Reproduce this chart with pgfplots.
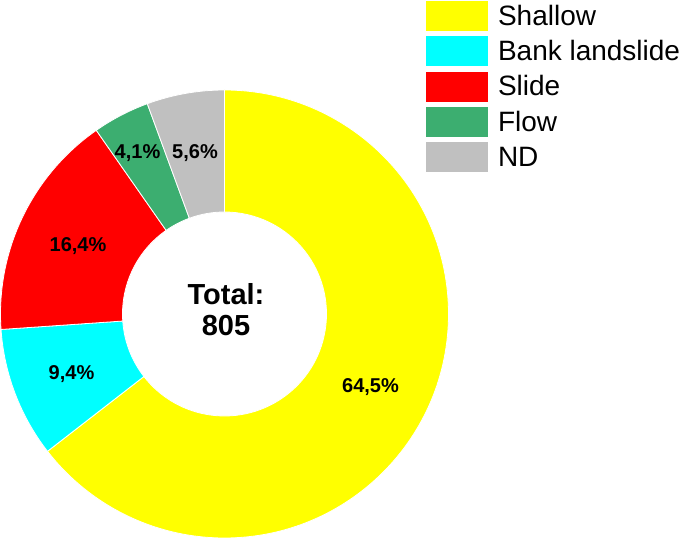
\documentclass[border=0pt]{standalone}
\usepackage{pgfplots}
\pgfplotsset{compat=1.18}
\usepackage{fontspec}
\setmainfont{Liberation Sans}

\definecolor{cShallow}{RGB}{255,255,0}
\definecolor{cBank}{RGB}{0,255,255}
\definecolor{cSlide}{RGB}{255,0,0}
\definecolor{cFlow}{RGB}{60,174,112}
\definecolor{cND}{RGB}{192,192,192}

% shares in percent, clockwise from 12 o'clock
\def\pShallow{64.5}
\def\pBank{9.4}
\def\pSlide{16.4}
\def\pFlow{4.1}
\def\pND{5.6}

% one ring sector: start angle, end angle, colour
\newcommand{\ring}[3]{%
  \fill[#3, draw=white, line width=0.8pt] (#1:224pt)
    arc[start angle=#1, end angle=#2, radius=224pt] -- (#2:102pt)
    arc[start angle=#2, end angle=#1, radius=102pt] -- cycle;}

\begin{document}
\begin{tikzpicture}
\pgfmathsetmacro\aA{90}
\pgfmathsetmacro\aB{\aA-3.6*\pShallow}
\pgfmathsetmacro\aC{\aB-3.6*\pBank}
\pgfmathsetmacro\aD{\aC-3.6*\pSlide}
\pgfmathsetmacro\aE{\aD-3.6*\pFlow}
\pgfmathsetmacro\aF{\aE-3.6*\pND}
\begin{axis}[
   scale only axis,
   x=1pt, y=1pt,
   xmin=0, xmax=685, ymin=0, ymax=540,
   hide axis, clip=false,
   legend image code/.code={\fill[#1] (0pt,-15pt) rectangle (62pt,15pt);},
   legend style={
      at={(axis cs:426,539)}, anchor=north west,
      draw=none, fill=none, inner sep=0pt, outer sep=0pt,
      font=\fontsize{28}{32}\selectfont,
      row sep=5.3pt,
      nodes={inner sep=0pt},
      /tikz/every odd column/.append style={column sep=10pt},
      legend cell align=left
      }
   ]
   \coordinate (ll) at (axis cs:0,0);
   \coordinate (ur) at (axis cs:685,540);
   \begin{scope}[shift={(axis cs:224.5,226)}]
      \ring{\aA}{\aB}{cShallow}
      \ring{\aB}{\aC}{cBank}
      \ring{\aC}{\aD}{cSlide}
      \ring{\aD}{\aE}{cFlow}
      \ring{\aE}{\aF}{cND}
   \end{scope}
   \addlegendimage{draw=none, fill=cShallow}\addlegendentry{Shallow}
   \addlegendimage{draw=none, fill=cBank}\addlegendentry{Bank landslide}
   \addlegendimage{draw=none, fill=cSlide}\addlegendentry{Slide}
   \addlegendimage{draw=none, fill=cFlow}\addlegendentry{Flow}
   \addlegendimage{draw=none, fill=cND}\addlegendentry{ND}
   % slice labels
   \begin{scope}[every node/.style={anchor=base, inner sep=0pt,
         font=\bfseries\fontsize{20}{22}\selectfont}]
      \node at (axis cs:370.5,147) {64,5\%};
      \node at (axis cs:71.5,160) {9,4\%};
      \node at (axis cs:78,288) {16,4\%};
      \node at (axis cs:137.5,381) {4,1\%};
      \node at (axis cs:195,381) {5,6\%};
   \end{scope}
   \begin{scope}[every node/.style={anchor=base, inner sep=0pt,
         font=\bfseries\fontsize{29}{30}\selectfont}]
      \node at (axis cs:226,235) {Total:};
      \node at (axis cs:226,204) {805};
   \end{scope}
\end{axis}
\pgfresetboundingbox
\useasboundingbox (ll) rectangle (ur);
\end{tikzpicture}
\end{document}
